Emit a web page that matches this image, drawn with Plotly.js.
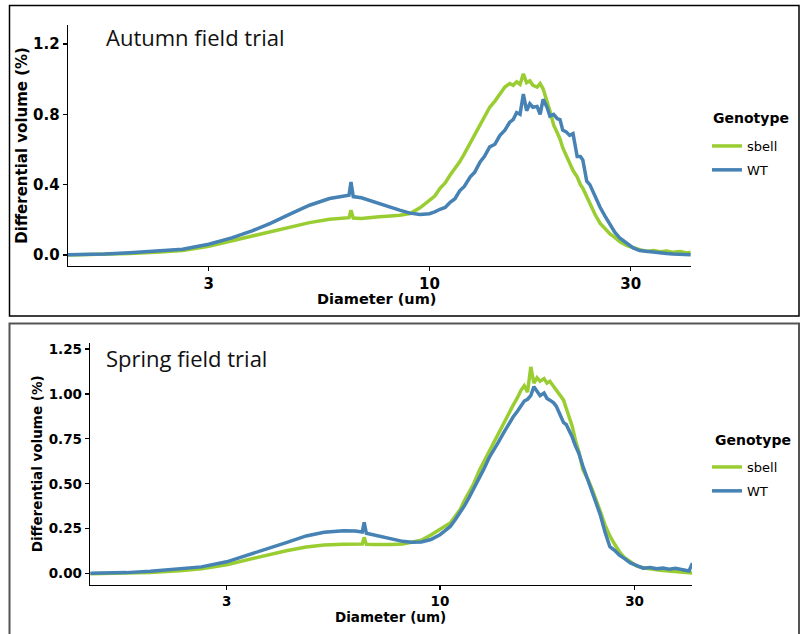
<!DOCTYPE html>
<html>
<head>
<meta charset="utf-8">
<script src="https://cdn.plot.ly/plotly-3.0.1.min.js"></script>
<style>html,body{margin:0;padding:0;background:#fff;}#chart{width:800px;height:634px;}</style>
</head>
<body>
<div id="chart"></div>
<script>
// Diameter (um), shared by both panels
const diameter = [1.39, 1.5, 1.7, 1.95, 2.3, 2.6, 3.0, 3.4, 3.8, 4.2, 4.7, 5.2, 5.8, 6.2, 6.45, 6.52, 6.6, 6.9, 7.2, 7.6, 8.1, 8.5, 9.0, 9.5, 10.0,
  10.3, 10.6, 10.9, 11.2, 11.5, 11.8, 12.1, 12.5, 12.8, 13.2, 13.5, 13.9, 14.3, 14.7, 15.1, 15.5, 15.8, 16.1, 16.4, 16.7, 17.0, 17.3, 17.6, 18.0, 18.3, 18.6, 19.0, 19.3, 19.7, 20.1, 20.4, 20.7, 21.1, 21.5, 21.9, 22.4, 22.8, 23.1, 23.6, 24.0, 24.7, 25.4, 26.1, 26.8, 27.5, 28.3, 29.3, 30.4, 31.5, 32.8, 34.0, 35.2, 36.5, 37.8, 39.3, 40.8, 41.6];

// Autumn field trial
const autumnSbell = [0.000, 0.001, 0.003, 0.009, 0.017, 0.026, 0.050, 0.080, 0.107, 0.133, 0.162, 0.184, 0.203, 0.210, 0.212, 0.255, 0.210, 0.208, 0.214, 0.218, 0.222, 0.226, 0.236, 0.268, 0.310,
  0.335, 0.379, 0.41, 0.455, 0.49, 0.53, 0.575, 0.635, 0.68, 0.74, 0.78, 0.84, 0.875, 0.92, 0.955, 0.975, 0.965, 0.985, 0.97, 1.03, 0.98, 0.99, 0.965, 0.955, 0.975, 0.945, 0.88, 0.82, 0.74, 0.70, 0.66, 0.61, 0.565, 0.52, 0.48, 0.445, 0.40, 0.38, 0.33, 0.30, 0.23, 0.18, 0.15, 0.12, 0.10, 0.075, 0.055, 0.04, 0.03, 0.02, 0.025, 0.018, 0.022, 0.015, 0.02, 0.012, 0.015];
const autumnWT = [0.002, 0.002, 0.005, 0.012, 0.022, 0.033, 0.061, 0.097, 0.137, 0.180, 0.235, 0.283, 0.321, 0.335, 0.340, 0.415, 0.332, 0.325, 0.310, 0.294, 0.272, 0.255, 0.238, 0.230, 0.235,
  0.245, 0.26, 0.27, 0.30, 0.32, 0.365, 0.39, 0.445, 0.47, 0.53, 0.56, 0.615, 0.63, 0.68, 0.71, 0.755, 0.77, 0.81, 0.80, 0.915, 0.82, 0.86, 0.84, 0.845, 0.80, 0.885, 0.84, 0.79, 0.80, 0.775, 0.77, 0.71, 0.70, 0.68, 0.69, 0.56, 0.56, 0.54, 0.42, 0.40, 0.33, 0.27, 0.22, 0.175, 0.13, 0.095, 0.07, 0.04, 0.025, 0.02, 0.012, 0.01, 0.008, 0.005, 0.004, 0.002, 0.002];

// Spring field trial
const springSbell = [0.000, 0.001, 0.003, 0.007, 0.016, 0.027, 0.050, 0.080, 0.104, 0.128, 0.149, 0.159, 0.164, 0.165, 0.165, 0.202, 0.163, 0.162, 0.161, 0.162, 0.165, 0.175, 0.186, 0.215, 0.244,
  0.262, 0.282, 0.32, 0.356, 0.41, 0.46, 0.50, 0.575, 0.62, 0.68, 0.725, 0.78, 0.835, 0.89, 0.935, 0.98, 1.02, 1.045, 1.01, 1.15, 1.06, 1.09, 1.07, 1.085, 1.06, 1.07, 1.04, 1.02, 0.99, 0.965, 0.92, 0.88, 0.82, 0.74, 0.68, 0.58, 0.55, 0.52, 0.47, 0.42, 0.35, 0.27, 0.21, 0.165, 0.125, 0.09, 0.065, 0.042, 0.033, 0.025, 0.022, 0.018, 0.015, 0.014, 0.012, 0.008, 0.004];
const springWT = [0.002, 0.003, 0.006, 0.013, 0.025, 0.038, 0.066, 0.104, 0.140, 0.173, 0.210, 0.230, 0.239, 0.238, 0.232, 0.285, 0.225, 0.215, 0.205, 0.193, 0.180, 0.175, 0.176, 0.190, 0.217,
  0.24, 0.263, 0.30, 0.337, 0.38, 0.425, 0.47, 0.535, 0.58, 0.645, 0.68, 0.73, 0.78, 0.83, 0.87, 0.905, 0.935, 0.96, 0.97, 0.99, 1.04, 1.01, 0.99, 1.005, 0.975, 0.965, 0.95, 0.93, 0.88, 0.84, 0.83, 0.80, 0.76, 0.71, 0.67, 0.60, 0.55, 0.52, 0.46, 0.40, 0.33, 0.23, 0.15, 0.13, 0.105, 0.085, 0.06, 0.045, 0.031, 0.035, 0.028, 0.031, 0.025, 0.03, 0.022, 0.015, 0.059];

const genotypes = ['sbell', 'WT'];
const legendTitle = 'Genotype';
const panelTitles = ['Autumn field trial', 'Spring field trial'];
const xTitle = 'Diameter (um)';
const yTitle = 'Differential volume (%)';
const xTickVals = [3, 10, 30];
const xTickText = ['3', '10', '30'];
const yTickValsTop = [0, 0.4, 0.8, 1.2];
const yTickTextTop = ['0.0', '0.4', '0.8', '1.2'];
const yTickValsBottom = [0, 0.25, 0.5, 0.75, 1.0, 1.25];
const yTickTextBottom = ['0.00', '0.25', '0.50', '0.75', '1.00', '1.25'];

const GREEN = '#9ACD32', BLUE = '#4682B4';
const AX = 'DejaVu Sans';

function tr(y, name, color, xa, ya, leg) {
  return {x: diameter, y: y, name: name, type: 'scatter', mode: 'lines', legendgroup: leg + name,
    line: {color: color, width: 3.5}, xaxis: xa, yaxis: ya, legend: leg, showlegend: true};
}
const data = [
  tr(autumnSbell, genotypes[0], GREEN, 'x', 'y', 'legend'),
  tr(autumnWT, genotypes[1], BLUE, 'x', 'y', 'legend'),
  tr(springSbell, genotypes[0], GREEN, 'x2', 'y2', 'legend2'),
  tr(springWT, genotypes[1], BLUE, 'x2', 'y2', 'legend2')
];

function xax(domain, anchor, range, fs) {
  return {type: 'log', domain: domain, anchor: anchor, range: range,
    tickvals: xTickVals, ticktext: xTickText, ticks: 'outside', ticklen: 4, tickwidth: 1.3, tickcolor: '#000',
    showline: true, linecolor: '#000', linewidth: 1.3, showgrid: false, zeroline: false, automargin: false,
    tickfont: {family: AX, size: fs, color: '#000', weight: 'bold'}};
}
function yax(domain, anchor, range, tv, tt, fs, standoff) {
  return {domain: domain, anchor: anchor, range: range,
    tickvals: tv, ticktext: tt, ticks: 'outside', ticklen: 4, tickwidth: 1.3, tickcolor: '#000',
    showline: true, linecolor: '#000', linewidth: 1.3, showgrid: false, zeroline: false, automargin: false,
    tickfont: {family: AX, size: fs, color: '#000', weight: 'bold'},
    title: {text: yTitle, standoff: standoff, font: {family: AX, size: fs, color: '#000', weight: 'bold'}}};
}

function leg(yTopPx) {
  return {x: 707 / 800, xanchor: 'left', y: 1 - yTopPx / 634, yanchor: 'top', bgcolor: 'rgba(0,0,0,0)',
    tracegroupgap: 4, font: {family: AX, size: 13, color: '#000'}};
}
function ann(text, xPx, yPx, xanchor, font) {
  return {text: text, xref: 'paper', yref: 'paper', x: xPx / 800, y: 1 - yPx / 634, xanchor: xanchor, yanchor: 'middle',
    showarrow: false, font: font};
}
const legFont = {family: AX, size: 14, color: '#000', weight: 'bold'};
const panelFont = {family: 'Open Sans', size: 22, color: '#111'};

const layout = {
  width: 800, height: 634,
  margin: {l: 0, r: 0, t: 0, b: 0},
  paper_bgcolor: '#fff', plot_bgcolor: '#fff',
  xaxis: xax([0.085, 0.86375], 'y', [0.1436, 1.620], 15),
  yaxis: yax([0.5809, 0.9606], 'x', [-0.061, 1.308], yTickValsTop, yTickTextTop, 15, 2),
  xaxis2: xax([0.1125, 0.865], 'y2', [0.142, 1.618], 13.5),
  yaxis2: yax([0.0778, 0.459], 'x2', [-0.061, 1.283], yTickValsBottom, yTickTextBottom, 13.5, 3),
  legend: leg(131),
  legend2: leg(452),
  annotations: [
    ann(panelTitles[0], 104, 37, 'left', panelFont),
    ann(panelTitles[1], 104, 358, 'left', panelFont),
    ann(legendTitle, 711, 118, 'left', legFont),
    ann(legendTitle, 713, 440, 'left', legFont),
    ann(xTitle, 376, 299, 'center', {family: AX, size: 14.5, color: '#000', weight: 'bold'}),
    ann(xTitle, 390, 617, 'center', {family: AX, size: 13.5, color: '#000', weight: 'bold'})
  ],
  shapes: [
    {type: 'rect', xref: 'paper', yref: 'paper', x0: 9.5 / 800, x1: 799 / 800, y0: 1 - 316 / 634, y1: 1 - 5.5 / 634,
      line: {color: '#000', width: 1.5}, fillcolor: 'rgba(0,0,0,0)', layer: 'below'},
    {type: 'rect', xref: 'paper', yref: 'paper', x0: 9.5 / 800, x1: 799 / 800, y0: -0.02, y1: 1 - 323.5 / 634,
      line: {color: '#555', width: 2}, fillcolor: 'rgba(0,0,0,0)', layer: 'below'}
  ]
};

Plotly.newPlot('chart', data, layout, {displayModeBar: false, staticPlot: true});
</script>
</body>
</html>
